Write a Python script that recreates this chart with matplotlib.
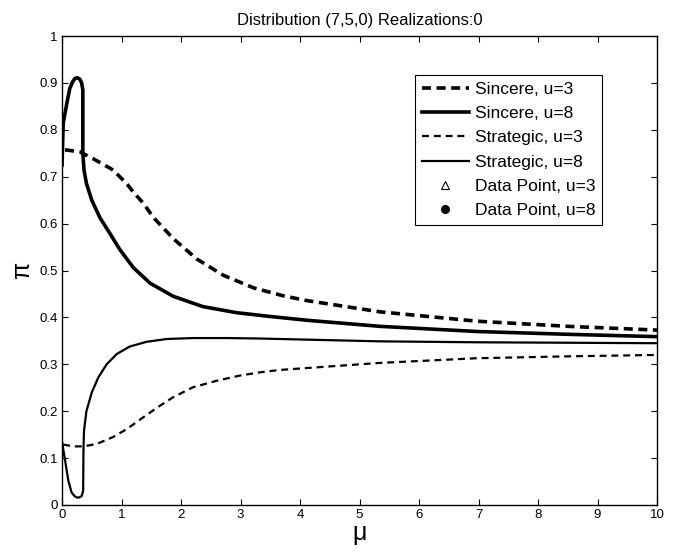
import matplotlib
matplotlib.use('Agg')
import matplotlib.pyplot as plt

plt.rcParams['font.family'] = ['Liberation Sans', 'DejaVu Sans']
plt.rcParams['lines.scale_dashes'] = False

# Sincere, u=3 (thick dashed)
mu_sin3 = [0.05, 0.08, 0.3, 0.53, 0.81, 0.86, 1.09, 1.2, 1.37, 1.53, 1.87, 2.26, 2.71, 3.22, 3.72, 4.11,
           5.34, 6.97, 8.5, 10.0]
pi_sin3 = [0.757, 0.757, 0.753, 0.738, 0.718, 0.714, 0.685, 0.667, 0.643, 0.614, 0.568, 0.525, 0.49, 0.463,
           0.446, 0.436, 0.412, 0.392, 0.381, 0.373]

# Sincere, u=8 (thick solid, loop near zero)
mu_sin8 = [0.0, 0.02, 0.08, 0.13, 0.18, 0.22, 0.26, 0.3, 0.33, 0.35, 0.35, 0.37, 0.41, 0.5, 0.64, 0.81,
           0.97, 1.2, 1.48, 1.87, 2.37, 2.94, 3.5, 4.11, 5.34, 6.97, 8.5, 10.0]
pi_sin8 = [0.725, 0.814, 0.856, 0.888, 0.903, 0.91, 0.911, 0.908, 0.9, 0.885, 0.75, 0.714, 0.686, 0.65,
           0.612, 0.578, 0.545, 0.506, 0.473, 0.445, 0.423, 0.41, 0.402, 0.394, 0.381, 0.37, 0.364, 0.359]

# Strategic, u=3 (thin dashed)
mu_str3 = [0.02, 0.19, 0.36, 0.58, 0.86, 1.09, 1.31, 1.59, 1.87, 2.2, 2.6, 2.99, 3.33, 3.66, 5.34, 6.97,
           8.5, 10.0]
pi_str3 = [0.129, 0.125, 0.125, 0.13, 0.145, 0.162, 0.182, 0.207, 0.23, 0.251, 0.265, 0.276, 0.283, 0.288,
           0.303, 0.313, 0.317, 0.32]

# Strategic, u=8 (thin solid, loop near zero)
mu_str8 = [0.0, 0.05, 0.106, 0.16, 0.21, 0.25, 0.29, 0.33, 0.355, 0.36, 0.365, 0.37, 0.41, 0.5, 0.61, 0.75,
           0.92, 1.14, 1.42, 1.76, 2.2, 2.77, 3.33, 3.66, 5.34, 6.97, 8.5, 10.0]
pi_str8 = [0.135, 0.096, 0.052, 0.027, 0.019, 0.016, 0.016, 0.019, 0.03, 0.11, 0.14, 0.159, 0.2, 0.24,
           0.272, 0.30, 0.322, 0.338, 0.348, 0.354, 0.356, 0.356, 0.355, 0.354, 0.349, 0.347, 0.346, 0.345]

# data points (none: Realizations:0)
mu_data3, pi_data3 = [], []
mu_data8, pi_data8 = [], []

fig = plt.figure(figsize=(6.83, 5.55), dpi=100)
ax = fig.add_axes([0.0908, 0.0901, 0.8712, 0.8449])

ax.plot(mu_sin3, pi_sin3, color='black', linewidth=2.6, dashes=(6.5, 4), label='Sincere, u=3')
ax.plot(mu_sin8, pi_sin8, color='black', linewidth=2.6, label='Sincere, u=8')
ax.plot(mu_str3, pi_str3, color='black', linewidth=1.6, dashes=(5, 3.5), label='Strategic, u=3')
ax.plot(mu_str8, pi_str8, color='black', linewidth=1.6, label='Strategic, u=8')
ax.plot(mu_data3, pi_data3, linestyle='none', marker='^', markersize=6,
        markerfacecolor='white', markeredgecolor='black', markeredgewidth=0.8, label='Data Point, u=3')
ax.plot(mu_data8, pi_data8, linestyle='none', marker='o', markersize=5.5,
        color='black', label='Data Point, u=8')

ax.set_xlim(0, 10)
ax.set_ylim(0, 1)
ax.set_xticks(range(0, 11))
ax.set_yticks([i / 10 for i in range(11)])
ax.set_yticklabels(['0'] + ['0.%d' % i for i in range(1, 10)] + ['1'])
ax.tick_params(direction='in', top=True, right=True, labelsize=9.5, length=4, width=0.8, pad=3)
for s in ax.spines.values():
    s.set_linewidth(1.0)

ax.set_title('Distribution (7,5,0) Realizations:0', fontsize=12, pad=8)
ax.set_xlabel('\u03bc', fontsize=18, labelpad=0)
ax.set_ylabel('\u03c0', fontsize=18, labelpad=4, rotation=90)

leg = ax.legend(loc='upper right', bbox_to_anchor=(0.908, 0.917), borderaxespad=0, fontsize=12.5,
                handlelength=2.7, handletextpad=0.35, labelspacing=0.52,
                borderpad=0.4, numpoints=1, fancybox=False, framealpha=1)
leg.get_frame().set_edgecolor('black')
leg.get_frame().set_linewidth(0.8)

fig.savefig('out.png', dpi=100)
